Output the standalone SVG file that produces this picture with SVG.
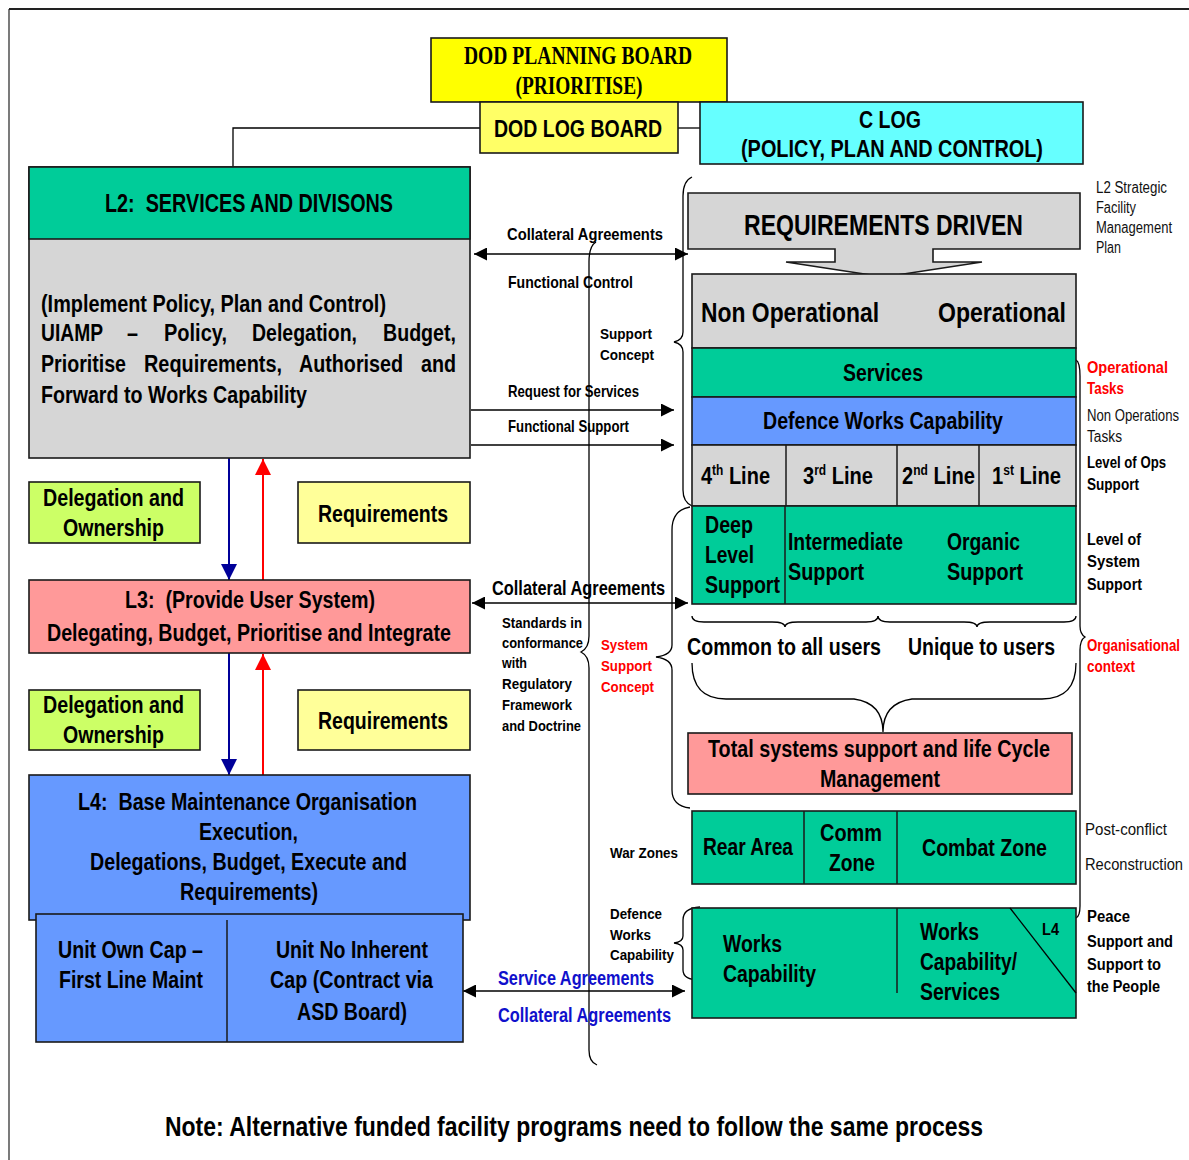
<svg xmlns="http://www.w3.org/2000/svg" width="1189" height="1160" viewBox="0 0 1189 1160">
  <style>
    .b { font-family: "Liberation Sans", Arial, sans-serif; font-weight: bold; fill: #000; }
    .r { font-family: "Liberation Sans", Arial, sans-serif; font-weight: normal; fill: #111; }
    .sf { font-family: "Liberation Serif", "Times New Roman", serif; font-weight: bold; fill: #000; }
    .red { fill: #FF0000; }
    .blu { fill: #1010CC; }
    .box { stroke: #1a1a1a; stroke-width: 1.6; }
    .ln { fill: none; stroke: #000; stroke-width: 1.3; }
    .dv { stroke: #1a1a1a; stroke-width: 1.5; }
    .c { text-anchor: middle; }
    .green { fill: #00CC99; }
    .grey { fill: #D6D6D6; }
    .blue { fill: #6699FF; }
    .pink { fill: #FF9999; }
    .lime { fill: #CCFF66; }
    .pale { fill: #FFFF99; }
  </style>
  <defs>
    <marker id="ah" viewBox="0 0 10 10" refX="10" refY="5" markerWidth="13" markerHeight="13" markerUnits="userSpaceOnUse" orient="auto-start-reverse">
      <path d="M0,0 L10,5 L0,10 z" fill="#000"/>
    </marker>
    <marker id="ahNavy" viewBox="0 0 10 10" refX="10" refY="5" markerWidth="18" markerHeight="16" markerUnits="userSpaceOnUse" orient="auto">
      <path d="M0,0 L10,5 L0,10 z" fill="#000099"/>
    </marker>
    <marker id="ahRed" viewBox="0 0 10 10" refX="10" refY="5" markerWidth="18" markerHeight="16" markerUnits="userSpaceOnUse" orient="auto">
      <path d="M0,0 L10,5 L0,10 z" fill="#FF0000"/>
    </marker>
  </defs>

  <rect width="1189" height="1160" fill="#fff"/>

  <!-- page frame -->
  <line x1="9" y1="9" x2="1189" y2="9" stroke="#222" stroke-width="2.2"/>
  <line x1="9" y1="9" x2="9" y2="1160" stroke="#222" stroke-width="1.2"/>

  <!-- connectors -->
  <g id="connectors">
    <polyline class="ln" points="480,128 233,128 233,167"/>
    <line class="ln" x1="678" y1="128" x2="700" y2="128"/>
    <!-- L2 <-> right column -->
    <line class="ln" x1="474" y1="254" x2="688" y2="254" marker-start="url(#ah)" marker-end="url(#ah)"/>
    <line class="ln" x1="471" y1="410" x2="674" y2="410" marker-end="url(#ah)"/>
    <line class="ln" x1="471" y1="445" x2="674" y2="445" marker-end="url(#ah)"/>
    <!-- L3 <-> right column -->
    <line class="ln" x1="472" y1="603" x2="688" y2="603" marker-start="url(#ah)" marker-end="url(#ah)"/>
    <!-- L4 <-> works capability -->
    <line class="ln" x1="463" y1="991" x2="685" y2="991" marker-start="url(#ah)" marker-end="url(#ah)"/>
    <!-- delegation / requirements flows -->
    <line x1="229" y1="458" x2="229" y2="580" stroke="#000099" stroke-width="2" marker-end="url(#ahNavy)"/>
    <line x1="263" y1="580" x2="263" y2="459" stroke="#FF0000" stroke-width="2" marker-end="url(#ahRed)"/>
    <line x1="229" y1="653" x2="229" y2="775" stroke="#000099" stroke-width="2" marker-end="url(#ahNavy)"/>
    <line x1="263" y1="775" x2="263" y2="654" stroke="#FF0000" stroke-width="2" marker-end="url(#ahRed)"/>

    <!-- long brace through the middle -->
    <path class="ln" d="M596,242 Q589,246 589,262 L589,636 Q589,648 581,652 Q589,656 589,668 L589,1050 Q589,1062 597,1065"/>
    <!-- brace: support concept -->
    <path class="ln" d="M692,177 Q683,181 683,196 L683,332 Q683,340 674,342 Q683,344 683,352 L683,490 Q683,502 692,506"/>
    <!-- brace: system support concept -->
    <path class="ln" d="M690,507 Q672,510 672,530 L672,645 Q672,655 656,657 Q672,659 672,670 L672,790 Q672,806 690,808"/>
    <!-- brace: defence works capability -->
    <path class="ln" d="M700,907 Q683,908 683,920 L683,936 Q683,942 674,943 Q683,944 683,950 L683,970 Q683,980 700,980"/>
    <!-- right-hand closing brace -->
    <path class="ln" d="M1076,360 Q1080,362 1080,376 L1080,626 Q1080,634 1085,637 Q1080,640 1080,650 L1080,906 Q1080,916 1076,918"/>
    <!-- small under-braces -->
    <path class="ln" d="M692,616 Q692,622 704,622 L772,622 Q785,622 785,627 Q785,622 798,622 L866,622 Q878,622 878,616"/>
    <path class="ln" d="M878,616 Q878,622 890,622 L964,622 Q977,622 977,627 Q977,622 990,622 L1064,622 Q1076,622 1076,616"/>
    <!-- large under-brace -->
    <path class="ln" d="M692,663 Q692,699 726,699 L854,699 Q883,703 883,732 Q883,703 912,699 L1042,699 Q1076,699 1076,663"/>
  </g>

  <!-- top boards -->
  <g id="dod-planning-board">
    <rect class="box" x="431" y="38" width="296" height="64" fill="#FFFF00"/>
    <text class="sf c" x="578" y="64" font-size="25" textLength="228" lengthAdjust="spacingAndGlyphs">DOD PLANNING BOARD</text>
    <text class="sf c" x="579" y="94" font-size="25" textLength="127" lengthAdjust="spacingAndGlyphs">(PRIORITISE)</text>
  </g>
  <g id="dod-log-board">
    <rect class="box" x="480" y="102" width="198" height="51" fill="#FFFF66"/>
    <text class="b c" x="578" y="137" font-size="24" textLength="168" lengthAdjust="spacingAndGlyphs">DOD LOG BOARD</text>
  </g>
  <g id="c-log">
    <rect class="box" x="700" y="102" width="383" height="62" fill="#66FFFF"/>
    <text class="b c" x="890" y="128" font-size="24" textLength="62" lengthAdjust="spacingAndGlyphs">C LOG</text>
    <text class="b c" x="892" y="157" font-size="24" textLength="302" lengthAdjust="spacingAndGlyphs">(POLICY, PLAN AND CONTROL)</text>
  </g>

  <!-- L2 -->
  <g id="l2-services">
    <rect class="box grey" x="29" y="167" width="441" height="291"/>
    <rect class="box green" x="29" y="167" width="441" height="72"/>
    <text class="b c" x="249" y="212" font-size="25" textLength="288" lengthAdjust="spacingAndGlyphs">L2:&#160; SERVICES AND DIVISONS</text>
    <g font-size="23.5">
      <text class="b" x="41" y="312" textLength="345" lengthAdjust="spacingAndGlyphs">(Implement Policy, Plan and Control)</text>
      <text class="b" x="41" y="341" textLength="62" lengthAdjust="spacingAndGlyphs">UIAMP</text>
      <text class="b" x="127" y="341" textLength="11" lengthAdjust="spacingAndGlyphs">–</text>
      <text class="b" x="164" y="341" textLength="63" lengthAdjust="spacingAndGlyphs">Policy,</text>
      <text class="b" x="252" y="341" textLength="105" lengthAdjust="spacingAndGlyphs">Delegation,</text>
      <text class="b" x="383" y="341" textLength="73" lengthAdjust="spacingAndGlyphs">Budget,</text>
      <text class="b" x="41" y="372" textLength="85" lengthAdjust="spacingAndGlyphs">Prioritise</text>
      <text class="b" x="144" y="372" textLength="138" lengthAdjust="spacingAndGlyphs">Requirements,</text>
      <text class="b" x="299" y="372" textLength="104" lengthAdjust="spacingAndGlyphs">Authorised</text>
      <text class="b" x="421" y="372" textLength="35" lengthAdjust="spacingAndGlyphs">and</text>
      <text class="b" x="41" y="403" textLength="266" lengthAdjust="spacingAndGlyphs">Forward to Works Capability</text>
    </g>
  </g>

  <g id="delegation-1">
    <rect class="box lime" x="29" y="482" width="171" height="61"/>
    <text class="b c" x="113.5" y="506" font-size="24" textLength="141" lengthAdjust="spacingAndGlyphs">Delegation and</text>
    <text class="b c" x="113.5" y="536" font-size="24" textLength="101" lengthAdjust="spacingAndGlyphs">Ownership</text>
  </g>
  <g id="requirements-1">
    <rect class="box pale" x="298" y="482" width="172" height="61"/>
    <text class="b c" x="383" y="522" font-size="24" textLength="130" lengthAdjust="spacingAndGlyphs">Requirements</text>
  </g>

  <g id="l3-user-system">
    <rect class="box pink" x="29" y="580" width="441" height="73"/>
    <text class="b c" x="250" y="608" font-size="24" textLength="250" lengthAdjust="spacingAndGlyphs">L3:&#160; (Provide User System)</text>
    <text class="b c" x="249" y="641" font-size="24" textLength="404" lengthAdjust="spacingAndGlyphs">Delegating, Budget, Prioritise and Integrate</text>
  </g>

  <g id="delegation-2">
    <rect class="box lime" x="29" y="690" width="171" height="60"/>
    <text class="b c" x="113.5" y="713" font-size="24" textLength="141" lengthAdjust="spacingAndGlyphs">Delegation and</text>
    <text class="b c" x="113.5" y="743" font-size="24" textLength="101" lengthAdjust="spacingAndGlyphs">Ownership</text>
  </g>
  <g id="requirements-2">
    <rect class="box pale" x="298" y="690" width="172" height="60"/>
    <text class="b c" x="383" y="729" font-size="24" textLength="130" lengthAdjust="spacingAndGlyphs">Requirements</text>
  </g>

  <g id="l4-base-maintenance">
    <rect class="box blue" x="29" y="775" width="441" height="145"/>
    <text class="b c" x="247.5" y="810" font-size="24" textLength="339" lengthAdjust="spacingAndGlyphs">L4:&#160; Base Maintenance Organisation</text>
    <text class="b c" x="248.5" y="840" font-size="24" textLength="99" lengthAdjust="spacingAndGlyphs">Execution,</text>
    <text class="b c" x="248.5" y="870" font-size="24" textLength="317" lengthAdjust="spacingAndGlyphs">Delegations, Budget, Execute and</text>
    <text class="b c" x="249" y="900" font-size="24" textLength="138" lengthAdjust="spacingAndGlyphs">Requirements)</text>
  </g>
  <g id="l4-units">
    <rect class="box blue" x="36" y="914" width="427" height="128"/>
    <line class="dv" x1="227" y1="920" x2="227" y2="1042"/>
    <text class="b c" x="130.5" y="958" font-size="24" textLength="145" lengthAdjust="spacingAndGlyphs">Unit Own Cap –</text>
    <text class="b c" x="131" y="988" font-size="24" textLength="144" lengthAdjust="spacingAndGlyphs">First Line Maint</text>
    <text class="b c" x="352" y="958" font-size="24" textLength="152" lengthAdjust="spacingAndGlyphs">Unit No Inherent</text>
    <text class="b c" x="351.5" y="988" font-size="24" textLength="163" lengthAdjust="spacingAndGlyphs">Cap (Contract via</text>
    <text class="b c" x="352" y="1020" font-size="24" textLength="110" lengthAdjust="spacingAndGlyphs">ASD Board)</text>
  </g>

  <!-- middle labels -->
  <g id="middle-labels">
    <text class="b" x="507" y="240" font-size="17" textLength="156" lengthAdjust="spacingAndGlyphs">Collateral Agreements</text>
    <text class="b" x="508" y="288" font-size="17" textLength="125" lengthAdjust="spacingAndGlyphs">Functional Control</text>
    <text class="b" x="600" y="339" font-size="15" textLength="52" lengthAdjust="spacingAndGlyphs">Support</text>
    <text class="b" x="600" y="360" font-size="15" textLength="54" lengthAdjust="spacingAndGlyphs">Concept</text>
    <text class="b" x="508" y="397" font-size="16.5" textLength="131" lengthAdjust="spacingAndGlyphs">Request for Services</text>
    <text class="b" x="508" y="432" font-size="16.5" textLength="121" lengthAdjust="spacingAndGlyphs">Functional Support</text>
    <text class="b" x="492" y="595" font-size="19.5" textLength="173" lengthAdjust="spacingAndGlyphs">Collateral Agreements</text>
    <g font-size="15">
      <text class="b" x="502" y="628" textLength="80" lengthAdjust="spacingAndGlyphs">Standards in</text>
      <text class="b" x="502" y="648" textLength="81" lengthAdjust="spacingAndGlyphs">conformance</text>
      <text class="b" x="502" y="668" textLength="25" lengthAdjust="spacingAndGlyphs">with</text>
      <text class="b" x="502" y="689" textLength="70" lengthAdjust="spacingAndGlyphs">Regulatory</text>
      <text class="b" x="502" y="710" textLength="70" lengthAdjust="spacingAndGlyphs">Framework</text>
      <text class="b" x="502" y="731" textLength="79" lengthAdjust="spacingAndGlyphs">and Doctrine</text>
      <text class="b red" x="601" y="650" textLength="47" lengthAdjust="spacingAndGlyphs">System</text>
      <text class="b red" x="601" y="671" textLength="51" lengthAdjust="spacingAndGlyphs">Support</text>
      <text class="b red" x="601" y="692" textLength="53" lengthAdjust="spacingAndGlyphs">Concept</text>
      <text class="b" x="610" y="858" textLength="68" lengthAdjust="spacingAndGlyphs">War Zones</text>
      <text class="b" x="610" y="919" textLength="52" lengthAdjust="spacingAndGlyphs">Defence</text>
      <text class="b" x="610" y="940" textLength="41" lengthAdjust="spacingAndGlyphs">Works</text>
      <text class="b" x="610" y="960" textLength="64" lengthAdjust="spacingAndGlyphs">Capability</text>
    </g>
    <text class="b blu" x="498" y="985" font-size="19.5" textLength="156" lengthAdjust="spacingAndGlyphs">Service Agreements</text>
    <text class="b blu" x="498" y="1022" font-size="19.5" textLength="173" lengthAdjust="spacingAndGlyphs">Collateral Agreements</text>
  </g>

  <!-- right column -->
  <g id="requirements-driven">
    <path class="box grey" d="M688,193 L1080,193 L1080,249 L933,249 L933,262 L982,262 L884,277 L786,262 L835,262 L835,249 L688,249 Z"/>
    <text class="b c" x="883.5" y="235" font-size="29" textLength="279" lengthAdjust="spacingAndGlyphs">REQUIREMENTS DRIVEN</text>
  </g>
  <g id="operational">
    <rect class="box grey" x="692" y="274" width="384" height="74"/>
    <text class="b" x="701" y="322" font-size="28.5" textLength="178" lengthAdjust="spacingAndGlyphs">Non Operational</text>
    <text class="b" x="938" y="322" font-size="28.5" textLength="128" lengthAdjust="spacingAndGlyphs">Operational</text>
  </g>
  <g id="services">
    <rect class="box green" x="692" y="348" width="384" height="49"/>
    <text class="b c" x="883" y="381" font-size="23.5" textLength="80" lengthAdjust="spacingAndGlyphs">Services</text>
  </g>
  <g id="defence-works-capability">
    <rect class="box blue" x="692" y="397" width="384" height="48"/>
    <text class="b c" x="883" y="429" font-size="23.5" textLength="240" lengthAdjust="spacingAndGlyphs">Defence Works Capability</text>
  </g>
  <g id="support-lines">
    <rect class="box grey" x="692" y="445" width="384" height="61"/>
    <line class="dv" x1="786" y1="445" x2="786" y2="506"/>
    <line class="dv" x1="897" y1="445" x2="897" y2="506"/>
    <line class="dv" x1="979" y1="445" x2="979" y2="506"/>
    <text class="b" x="701" y="484" font-size="23.5" textLength="69" lengthAdjust="spacingAndGlyphs">4<tspan font-size="14" dy="-9">th</tspan><tspan dy="9"> Line</tspan></text>
    <text class="b" x="803" y="484" font-size="23.5" textLength="70" lengthAdjust="spacingAndGlyphs">3<tspan font-size="14" dy="-9">rd</tspan><tspan dy="9"> Line</tspan></text>
    <text class="b" x="902" y="484" font-size="23.5" textLength="73" lengthAdjust="spacingAndGlyphs">2<tspan font-size="14" dy="-9">nd</tspan><tspan dy="9"> Line</tspan></text>
    <text class="b" x="992" y="484" font-size="23.5" textLength="69" lengthAdjust="spacingAndGlyphs">1<tspan font-size="14" dy="-9">st</tspan><tspan dy="9"> Line</tspan></text>
  </g>
  <g id="support-levels">
    <rect class="box green" x="692" y="506" width="384" height="98"/>
    <line class="dv" x1="785" y1="506" x2="785" y2="604"/>
    <text class="b" x="705" y="533" font-size="23.5" textLength="48" lengthAdjust="spacingAndGlyphs">Deep</text>
    <text class="b" x="705" y="563" font-size="23.5" textLength="49" lengthAdjust="spacingAndGlyphs">Level</text>
    <text class="b" x="705" y="593" font-size="23.5" textLength="75" lengthAdjust="spacingAndGlyphs">Support</text>
    <text class="b" x="788" y="550" font-size="23.5" textLength="115" lengthAdjust="spacingAndGlyphs">Intermediate</text>
    <text class="b" x="788" y="580" font-size="23.5" textLength="76" lengthAdjust="spacingAndGlyphs">Support</text>
    <text class="b" x="947" y="550" font-size="23.5" textLength="73" lengthAdjust="spacingAndGlyphs">Organic</text>
    <text class="b" x="947" y="580" font-size="23.5" textLength="76" lengthAdjust="spacingAndGlyphs">Support</text>
  </g>
  <g id="user-scope">
    <text class="b" x="687" y="655" font-size="23.5" textLength="194" lengthAdjust="spacingAndGlyphs">Common to all users</text>
    <text class="b" x="908" y="655" font-size="23.5" textLength="147" lengthAdjust="spacingAndGlyphs">Unique to users</text>
  </g>
  <g id="total-systems-support">
    <rect class="box pink" x="688" y="733" width="384" height="61"/>
    <text class="b c" x="879" y="757" font-size="23.5" textLength="342" lengthAdjust="spacingAndGlyphs">Total systems support and life Cycle</text>
    <text class="b c" x="880" y="787" font-size="23.5" textLength="120" lengthAdjust="spacingAndGlyphs">Management</text>
  </g>
  <g id="war-zones">
    <rect class="box green" x="692" y="811" width="384" height="73"/>
    <line class="dv" x1="804" y1="811" x2="804" y2="884"/>
    <line class="dv" x1="897" y1="811" x2="897" y2="884"/>
    <text class="b" x="703" y="855" font-size="23.5" textLength="90" lengthAdjust="spacingAndGlyphs">Rear Area</text>
    <text class="b c" x="851" y="841" font-size="23.5" textLength="62" lengthAdjust="spacingAndGlyphs">Comm</text>
    <text class="b c" x="852" y="871" font-size="23.5" textLength="46" lengthAdjust="spacingAndGlyphs">Zone</text>
    <text class="b" x="922" y="856" font-size="23.5" textLength="125" lengthAdjust="spacingAndGlyphs">Combat Zone</text>
  </g>
  <g id="works-capability">
    <rect class="box green" x="692" y="908" width="384" height="110"/>
    <line class="dv" x1="897" y1="908" x2="897" y2="993"/>
    <line x1="1010" y1="908" x2="1076" y2="993" stroke="#000" stroke-width="1.3"/>
    <text class="b" x="1042" y="935" font-size="17" textLength="17" lengthAdjust="spacingAndGlyphs">L4</text>
    <text class="b" x="723" y="952" font-size="23.5" textLength="59" lengthAdjust="spacingAndGlyphs">Works</text>
    <text class="b" x="723" y="982" font-size="23.5" textLength="93" lengthAdjust="spacingAndGlyphs">Capability</text>
    <text class="b" x="920" y="940" font-size="23.5" textLength="59" lengthAdjust="spacingAndGlyphs">Works</text>
    <text class="b" x="920" y="970" font-size="23.5" textLength="97" lengthAdjust="spacingAndGlyphs">Capability/</text>
    <text class="b" x="920" y="1000" font-size="23.5" textLength="80" lengthAdjust="spacingAndGlyphs">Services</text>
  </g>

  <!-- side notes -->
  <g id="side-notes" font-size="16">
    <text class="r" x="1096" y="193" textLength="71" lengthAdjust="spacingAndGlyphs">L2 Strategic</text>
    <text class="r" x="1096" y="213" textLength="40" lengthAdjust="spacingAndGlyphs">Facility</text>
    <text class="r" x="1096" y="233" textLength="76" lengthAdjust="spacingAndGlyphs">Management</text>
    <text class="r" x="1096" y="253" textLength="25" lengthAdjust="spacingAndGlyphs">Plan</text>
    <text class="b red" x="1087" y="373" textLength="81" lengthAdjust="spacingAndGlyphs">Operational</text>
    <text class="b red" x="1087" y="394" textLength="37" lengthAdjust="spacingAndGlyphs">Tasks</text>
    <text class="r" x="1087" y="421" textLength="92" lengthAdjust="spacingAndGlyphs">Non Operations</text>
    <text class="r" x="1087" y="442" textLength="35" lengthAdjust="spacingAndGlyphs">Tasks</text>
    <text class="b" x="1087" y="468" textLength="79" lengthAdjust="spacingAndGlyphs">Level of Ops</text>
    <text class="b" x="1087" y="490" textLength="52" lengthAdjust="spacingAndGlyphs">Support</text>
    <text class="b" x="1087" y="545" textLength="54" lengthAdjust="spacingAndGlyphs">Level of</text>
    <text class="b" x="1087" y="567" textLength="53" lengthAdjust="spacingAndGlyphs">System</text>
    <text class="b" x="1087" y="590" textLength="55" lengthAdjust="spacingAndGlyphs">Support</text>
    <text class="b red" x="1087" y="651" textLength="93" lengthAdjust="spacingAndGlyphs">Organisational</text>
    <text class="b red" x="1087" y="672" textLength="48" lengthAdjust="spacingAndGlyphs">context</text>
    <text class="r" x="1085" y="835" font-size="17" textLength="82" lengthAdjust="spacingAndGlyphs">Post-conflict</text>
    <text class="r" x="1085" y="870" font-size="17" textLength="98" lengthAdjust="spacingAndGlyphs">Reconstruction</text>
    <text class="b" x="1087" y="922" textLength="43" lengthAdjust="spacingAndGlyphs">Peace</text>
    <text class="b" x="1087" y="947" textLength="86" lengthAdjust="spacingAndGlyphs">Support and</text>
    <text class="b" x="1087" y="970" textLength="74" lengthAdjust="spacingAndGlyphs">Support to</text>
    <text class="b" x="1087" y="992" textLength="73" lengthAdjust="spacingAndGlyphs">the People</text>
  </g>

  <g id="note">
    <text class="b c" x="574" y="1136" font-size="27.5" textLength="818" lengthAdjust="spacingAndGlyphs">Note: Alternative funded facility programs need to follow the same process</text>
  </g>
</svg>
